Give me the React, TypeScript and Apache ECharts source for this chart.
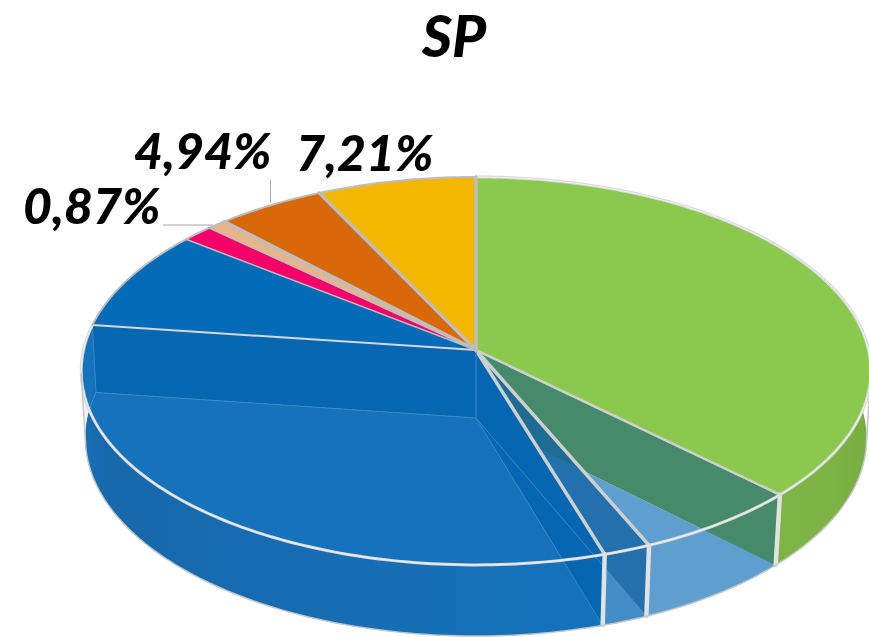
import React, { useEffect, useRef } from "react";
import * as echarts from "echarts";

// Clockwise from 12 o'clock
const sliceShares = [37.3, 6.2, 1.75, 31.86, 8.45, 1.42, 0.87, 4.94, 7.21];
const topColors = ["#8BC84E", "", "", "", "#046BB8", "#F5016A", "#E8B48A", "#D9680B", "#F4B700"];
const floorColors = ["", "#5E9FD0", "#438EC8", "#1573BB", "", "", "", "", ""];
const labelledSlices = [6, 7, 8];

const FONT = "Lato";
const totalShare = sliceShares.reduce((a, b) => a + b, 0);
const bounds: number[] = [0];
sliceShares.forEach((v, i) => bounds.push(bounds[i] + (v / totalShare) * 360));

type Disc = { cx: number; cy: number; a: number; b: number; p: number };
const topDisc: Disc = { cx: 476, cy: 350, a: 392.5, b: 191.7, p: 0.108 };
const baseDisc: Disc = { cx: 476, cy: 418, a: 388.5, b: 195.6, p: 0.103 };

const pt = (d: Disc, deg: number): number[] => {
  const t = (deg * Math.PI) / 180;
  const u = Math.sin(t);
  const v = -Math.cos(t);
  const w = 1 - d.p * v;
  return [d.cx + (d.a * u) / w, d.cy + (d.b * v) / w];
};
const arc = (d: Disc, from: number, to: number): number[][] => {
  const n = Math.max(2, Math.ceil(Math.abs(to - from)));
  const out: number[][] = [];
  for (let i = 0; i <= n; i++) out.push(pt(d, from + ((to - from) * i) / n));
  return out;
};
const topApex = [topDisc.cx, topDisc.cy];
const baseApex = [baseDisc.cx, baseDisc.cy];
const poly = (points: number[][], style: any) => ({ type: "polygon", shape: { points }, style, silent: true });
const line = (points: number[][], stroke: string, lineWidth: number) => ({
  type: "polyline",
  shape: { points },
  style: { stroke, lineWidth, fill: "none", lineJoin: "round", lineCap: "round" },
  silent: true,
});
const group = (children: any[]) => ({ type: "group", children, silent: true });
const horiz = (stops: [number, string][]) =>
  new echarts.graphic.LinearGradient(0, 0, 1, 0, stops.map(([offset, color]) => ({ offset, color })));

const wallRange = (i: number): number[] | null => {
  if (i === 0) return [70, bounds[1]];
  if (i === 1 || i === 2) return [bounds[i], bounds[i + 1]];
  if (i === 3) return [bounds[3], 290];
  return null;
};

// Layers, painted back to front
const layerWallBase = (i: number) => {
  const r = wallRange(i);
  if (!r) return null;
  const fill = i === 0
    ? horiz([[0, "#7FB544"], [0.6, "#7DB343"], [1, "#76AD40"]])
    : floorColors[i];
  return poly([...arc(topDisc, r[0], r[1]), ...arc(baseDisc, r[1], r[0])], { fill });
};
const layerFloor = (i: number) => {
  if (!floorColors[i]) return null;
  return poly([baseApex, ...arc(baseDisc, bounds[i], bounds[i + 1])], { fill: floorColors[i] });
};
const sideFace = (deg: number, fill: string) =>
  poly([topApex, pt(topDisc, deg), pt(baseDisc, deg), baseApex], { fill });
const layerFace = (i: number) => {
  if (i === 0) return sideFace(bounds[1], "#458B6B");
  if (i === 1) return sideFace(bounds[2], "rgba(15,97,162,0.75)");
  if (i === 2) return sideFace(bounds[3], "#0566B1");
  if (i === 3) return sideFace(bounds[4], "#0566B1");
  return null;
};
const layerWallShade = (i: number) => {
  if (i !== 3) return null;
  const from = bounds[3];
  const to = 264;
  return poly([...arc(topDisc, from, to), ...arc(baseDisc, to, from)], {
    fill: horiz([[0, "rgba(30,60,110,0.04)"], [0.05, "rgba(30,60,110,0.2)"], [0.55, "rgba(30,60,110,0.1)"], [1, "rgba(30,60,110,0)"]]),
  });
};
const layerTop = (i: number) => {
  if (!topColors[i]) return null;
  return poly([topApex, ...arc(topDisc, bounds[i], bounds[i + 1])], { fill: topColors[i] });
};
const layerEdges = (i: number) => {
  const kids: any[] = [];
  const isFront = i >= 0 && i <= 3;
  // thin seams of the inner faces
  if (i === 1 || i === 2) kids.push(line([baseApex, pt(baseDisc, bounds[i + 1])], i === 2 ? "#3A84C2" : "rgba(90,150,200,0.7)", 1));
  if (i === 3) {
    kids.push(line([topApex, baseApex], "#3C86C3", 1));
    kids.push(line([baseApex, pt(baseDisc, bounds[4])], "#3C86C3", 1));
    kids.push(line([pt(topDisc, bounds[4]), pt(baseDisc, bounds[4])], "#3C86C3", 1));
  }
  // spoke at the end of the slice
  const spokeColor = i === 3 ? "#D6D6D6" : i >= 4 ? "#BEBEBE" : "#CFCFCF";
  const spokeWidth = i === 8 ? 3.5 : i === 3 ? 2 : i === 0 ? 2.5 : i === 4 || i === 5 ? 1.5 : 3.5;
  kids.push(line([topApex, pt(topDisc, bounds[i + 1])], spokeColor, spokeWidth));
  // rim
  kids.push(line(arc(topDisc, bounds[i], bounds[i + 1]), isFront ? "#D8D8D8" : "#BDBDBD", isFront ? 3 : 2));
  if (isFront) kids.push(line(arc(topDisc, bounds[i], bounds[i + 1]), "#F2F2F2", 1));
  // wall corner
  if (i <= 2) kids.push(line([pt(topDisc, bounds[i + 1]), pt(baseDisc, bounds[i + 1])], "#E2E2E2", 4.5));
  return group(kids);
};
const layerOutline = () =>
  group([
    line(arc(baseDisc, 97, 263), "#C6C6C6", 1.5),
    line([pt(topDisc, 263), pt(baseDisc, 263)], "#C6C6C6", 1.5),
    line([pt(topDisc, 97), pt(baseDisc, 97)], "#C6C6C6", 1.5),
  ]);

const layers = [layerWallBase, layerFloor, layerFace, layerWallShade, layerTop, layerEdges, (i: number) => (i === 0 ? layerOutline() : null)];

const fmt = (v: number) => v.toFixed(2).replace(".", ",") + "%";
const labelPlaces = [
  { x: 23, y: 205 },
  { x: 134, y: 150 },
  { x: 296, y: 152 },
];

export default function App() {
  const ref = useRef<HTMLDivElement>(null);
  useEffect(() => {
    const chart = echarts.init(ref.current as HTMLDivElement, undefined, { renderer: "svg" });
    chart.setOption({
      animation: false,
      backgroundColor: "#ffffff",
      title: {
        text: "SP",
        left: 449,
        top: 0,
        textAlign: "center",
        textStyle: { fontFamily: FONT, fontSize: 58, fontWeight: 900, fontStyle: "italic", color: "#000" },
      },
      series: layers.map((layer, z) => ({
        type: "custom",
        coordinateSystem: "none",
        silent: true,
        z: z + 1,
        data: sliceShares.map((v) => [v]),
        renderItem: (params: any) => layer(params.dataIndex),
      })),
      graphic: [
        { type: "line", z: 20, shape: { x1: 163, y1: 225, x2: 213, y2: 225 }, style: { stroke: "#A6A6A6", lineWidth: 1 }, silent: true },
        { type: "line", z: 20, shape: { x1: 270.5, y1: 180, x2: 270.5, y2: 203 }, style: { stroke: "#A6A6A6", lineWidth: 1 }, silent: true },
        ...labelledSlices.map((s, i) => ({
          type: "text",
          z: 21,
          x: labelPlaces[i].x,
          y: labelPlaces[i].y,
          silent: true,
          style: {
            text: fmt(sliceShares[s]),
            fill: "#000",
            font: `italic 900 50px ${FONT}`,
            textAlign: "left",
            textVerticalAlign: "middle",
          },
        })),
      ],
    });
    return () => chart.dispose();
  }, []);
  return <div ref={ref} style={{ position: "absolute", left: 0, top: 0, width: 869, height: 637 }} />;
}
